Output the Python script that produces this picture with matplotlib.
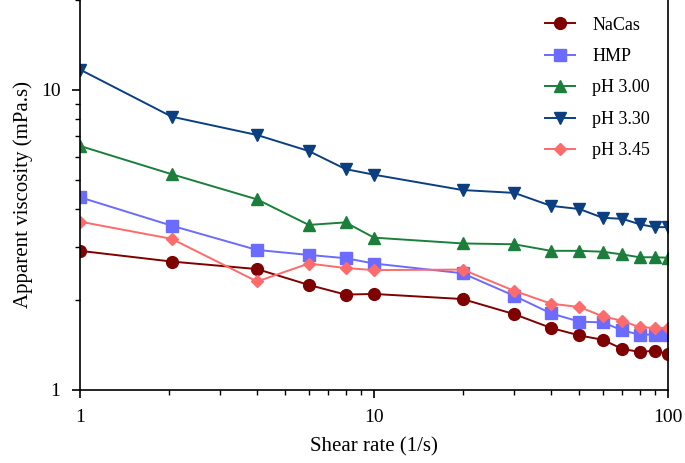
import numpy as np
import matplotlib
matplotlib.use('Agg')
import matplotlib.pyplot as plt
from matplotlib.ticker import LogLocator, NullFormatter, FixedLocator, FixedFormatter

plt.rcParams['font.family'] = ['Liberation Serif', 'DejaVu Serif']

# shear rates (1/s)
shear = [1, 2.05, 4, 6, 8, 10, 20, 30, 40, 50, 60, 70, 80, 90, 100]

# apparent viscosity (mPa.s)
nacas = [2.91, 2.68, 2.53, 2.24, 2.08, 2.09, 2.01, 1.79, 1.61, 1.52, 1.47, 1.37, 1.34, 1.35, 1.32]
hmp = [4.39, 3.53, 2.93, 2.82, 2.75, 2.64, 2.45, 2.06, 1.80, 1.69, 1.68, 1.58, 1.53, 1.53, 1.53]
ph300 = [6.51, 5.24, 4.32, 3.55, 3.62, 3.22, 3.08, 3.06, 2.91, 2.91, 2.89, 2.83, 2.77, 2.77, 2.76]
ph330 = [11.7, 8.15, 7.08, 6.26, 5.45, 5.22, 4.64, 4.54, 4.11, 4.01, 3.75, 3.72, 3.57, 3.49, 3.49]
ph345 = [3.64, 3.19, 2.30, 2.64, 2.55, 2.51, 2.52, 2.14, 1.94, 1.89, 1.76, 1.70, 1.62, 1.61, 1.61]

fig = plt.figure(figsize=(6.85, 4.63), dpi=100)
# axes top sits just above the figure edge (no top line visible in the reference)
ax = fig.add_axes([80/685, 73/463, 588/685, 391.5/463])

ax.plot(shear, nacas, color='#7f0000', marker='o', ms=8.5, lw=1.4, label='NaCas')
ax.plot(shear, hmp, color='#6b6bff', marker='s', ms=8.5, lw=1.4, label='HMP')
ax.plot(shear, ph300, color='#1b7f3b', marker='^', ms=9, lw=1.4, label='pH 3.00')
ax.plot(shear, ph330, color='#0b3f80', marker='v', ms=9, lw=1.4, label='pH 3.30')
ax.plot(shear, ph345, color='#ff6a6a', marker='D', ms=6.5, lw=1.4, label='pH 3.45')

ax.set_xscale('log')
ax.set_yscale('log')
ax.set_xlim(1, 100)
ax.set_ylim(1, 10 ** (391.5 / 300))

ax.xaxis.set_major_locator(FixedLocator([1, 10, 100]))
ax.xaxis.set_major_formatter(FixedFormatter(['1', '10', '100']))
ax.yaxis.set_major_locator(FixedLocator([1, 10]))
ax.yaxis.set_major_formatter(FixedFormatter(['1', '10']))
ax.xaxis.set_minor_locator(LogLocator(base=10, subs=np.arange(2, 10)))
ax.yaxis.set_minor_locator(LogLocator(base=10, subs=np.arange(2, 10)))
ax.xaxis.set_minor_formatter(NullFormatter())
ax.yaxis.set_minor_formatter(NullFormatter())

ax.tick_params(which='major', direction='out', length=6, width=1.2, labelsize=14, pad=8)
ax.tick_params(which='minor', direction='out', length=3.5, width=1.0)
for s in ax.spines.values():
    s.set_linewidth(1.2)

ax.set_xlabel('Shear rate (1/s)', fontsize=15, labelpad=8)
ax.set_ylabel('Apparent viscosity (mPa.s)', fontsize=15, labelpad=6)

ax.legend(loc='upper right', frameon=False, fontsize=13, handlelength=1.65,
          labelspacing=0.8, borderaxespad=0.6, handletextpad=0.95)

fig.savefig('out.png', dpi=100)
